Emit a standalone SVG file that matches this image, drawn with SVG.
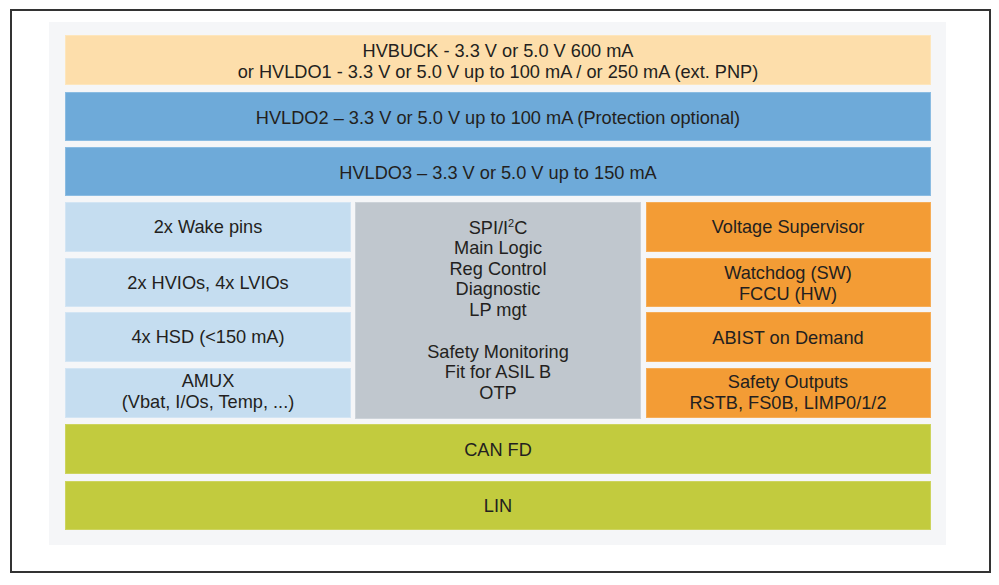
<svg xmlns="http://www.w3.org/2000/svg" width="999" height="585" viewBox="0 0 999 585">
<style>
text{font-family:"Liberation Sans",Arial,sans-serif;font-size:18.2px;fill:#231f20;text-anchor:middle}
.peach{fill:#fddeab;stroke:#fde6bd;stroke-width:1}
.blue{fill:#6eaad9;stroke:#8bbce2;stroke-width:1}
.lblue{fill:#c5ddf0;stroke:#d3e5f4;stroke-width:1}
.gray{fill:#c0c7ce;stroke:#cdd3d9;stroke-width:1}
.orange{fill:#f39c35;stroke:#f6ad57;stroke-width:1}
.green{fill:#c2cb3e;stroke:#cdd45e;stroke-width:1}
</style>
<rect x="0" y="0" width="999" height="585" fill="#ffffff"/>
<rect x="11" y="10" width="979" height="562" fill="#ffffff" stroke="#333333" stroke-width="2"/>
<rect x="49" y="22" width="897" height="523" fill="#f5f6f8"/>
<g id="hvbuck"><rect class="peach" x="65.5" y="35.5" width="865" height="49"/><text x="498" y="56.5">HVBUCK - 3.3 V or 5.0 V 600 mA</text><text x="498" y="77.5">or HVLDO1 - 3.3 V or 5.0 V up to 100 mA / or 250 mA (ext. PNP)</text></g>
<g id="hvldo2"><rect class="blue" x="65.5" y="92.5" width="865" height="48"/><text x="498" y="123.5">HVLDO2 – 3.3 V or 5.0 V up to 100 mA (Protection optional)</text></g>
<g id="hvldo3"><rect class="blue" x="65.5" y="147.5" width="865" height="48"/><text x="498" y="178.5">HVLDO3 – 3.3 V or 5.0 V up to 150 mA</text></g>
<g id="wake"><rect class="lblue" x="65.5" y="202.5" width="285" height="49"/><text x="208" y="233">2x Wake pins</text></g>
<g id="hvios"><rect class="lblue" x="65.5" y="258.5" width="285" height="48"/><text x="208" y="289">2x HVIOs, 4x LVIOs</text></g>
<g id="hsd"><rect class="lblue" x="65.5" y="312.5" width="285" height="49"/><text x="208" y="343">4x HSD (&lt;150 mA)</text></g>
<g id="amux"><rect class="lblue" x="65.5" y="368.5" width="285" height="49"/><text x="208" y="387">AMUX</text><text x="208" y="408">(Vbat, I/Os, Temp, ...)</text></g>
<g id="logic"><rect class="gray" x="355.5" y="202.5" width="285" height="216"/>
<text x="498" y="233.5">SPI/I<tspan font-size="11" dy="-7">2</tspan><tspan dy="7">C</tspan></text>
<text x="498" y="254">Main Logic</text>
<text x="498" y="274.5">Reg Control</text>
<text x="498" y="295">Diagnostic</text>
<text x="498" y="315.5">LP mgt</text>
<text x="498" y="357.5">Safety Monitoring</text>
<text x="498" y="377.5">Fit for ASIL B</text>
<text x="498" y="398.5">OTP</text></g>
<g id="vsup"><rect class="orange" x="646.5" y="202.5" width="284" height="49"/><text x="788" y="233">Voltage Supervisor</text></g>
<g id="wdog"><rect class="orange" x="646.5" y="258.5" width="284" height="48"/><text x="788" y="279">Watchdog (SW)</text><text x="788" y="299.5">FCCU (HW)</text></g>
<g id="abist"><rect class="orange" x="646.5" y="312.5" width="284" height="49"/><text x="788" y="343.5">ABIST on Demand</text></g>
<g id="safeout"><rect class="orange" x="646.5" y="368.5" width="284" height="49"/><text x="788" y="388">Safety Outputs</text><text x="788" y="409">RSTB, FS0B, LIMP0/1/2</text></g>
<g id="canfd"><rect class="green" x="65.5" y="424.5" width="865" height="49"/><text x="498" y="455.5">CAN FD</text></g>
<g id="lin"><rect class="green" x="65.5" y="481.5" width="865" height="48"/><text x="498" y="512">LIN</text></g>
<g id="connectors"></g>
</svg>
